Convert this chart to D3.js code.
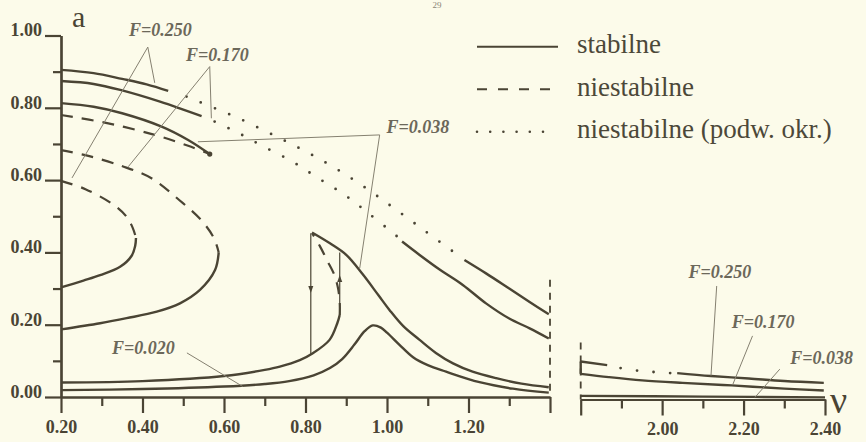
<!DOCTYPE html>
<html>
<head>
<meta charset="utf-8">
<script src="https://cdn.jsdelivr.net/npm/d3@7"></script>
<style>
body { margin:0; background:#fcfbea; }
svg { display:block; }
</style>
</head>
<body>
<svg id="chart"></svg>
<script>
var width = 866,
    height = 442;

// ticks
var yTicks = [0, 0.2, 0.4, 0.6, 0.8, 1.0];
var yTickLabels = ["0.00", "0.20", "0.40", "0.60", "0.80", "1.00"];
var yMinor = [0.1, 0.3, 0.5, 0.7, 0.9];
var xTicksLeft = [0.2, 0.4, 0.6, 0.8, 1.0, 1.2, 1.4];
var xTickLabelsLeft = ["0.20", "0.40", "0.60", "0.80", "1.00", "1.20", ""];
var xMinorLeft = [0.3, 0.5, 0.7, 0.9, 1.1, 1.3];
var xTicksRight = [1.8, 2.0, 2.2, 2.4];
var xTickLabelsRight = ["", "2.00", "2.20", "2.40"];
var xMinorRight = [1.9, 2.1, 2.3];

// branches [nu, a] - left panel
var f250Top = [[0.20,0.905],[0.28,0.896],[0.35,0.880],[0.41,0.865],[0.463,0.847]];
var f170Top = [[0.20,0.874],[0.28,0.866],[0.35,0.848],[0.443,0.817],[0.50,0.795],[0.545,0.777]];
var f038Top = [[0.20,0.813],[0.28,0.803],[0.35,0.785],[0.447,0.748],[0.512,0.711],[0.565,0.672]];
var f038TopUnst = [[0.20,0.780],[0.316,0.757],[0.43,0.725],[0.512,0.695],[0.565,0.672]];
var f170Unst = [[0.20,0.683],[0.267,0.667],[0.349,0.639],[0.422,0.605],[0.49,0.545],[0.545,0.488],[0.575,0.44],[0.587,0.40]];
var f170Low = [[0.20,0.187],[0.296,0.204],[0.361,0.218],[0.435,0.236],[0.492,0.259],[0.541,0.296],[0.578,0.351],[0.587,0.40]];
var f250Unst = [[0.20,0.598],[0.26,0.575],[0.33,0.531],[0.36,0.50],[0.376,0.468],[0.384,0.44]];
var f250Low = [[0.20,0.303],[0.255,0.322],[0.296,0.337],[0.345,0.360],[0.373,0.39],[0.382,0.418],[0.384,0.44]];
var f020 = [[0.20,0.019],[0.40,0.022],[0.60,0.029],[0.70,0.036],[0.76,0.044],[0.82,0.060],[0.86,0.080],[0.89,0.105],[0.92,0.145],[0.945,0.182],[0.965,0.198],[0.985,0.192],[1.00,0.178],[1.03,0.145],[1.064,0.11],[1.10,0.088],[1.145,0.070],[1.227,0.041],[1.309,0.023],[1.397,0.012]];
var f038Low = [[0.20,0.040],[0.40,0.044],[0.60,0.058],[0.70,0.075],[0.737,0.084],[0.786,0.102],[0.818,0.121],[0.859,0.158],[0.878,0.204],[0.884,0.227]];
var f038Unst = [[0.884,0.227],[0.884,0.26],[0.88,0.30],[0.87,0.34],[0.852,0.38],[0.835,0.418],[0.816,0.453]];
var f038Peak = [[0.816,0.455],[0.86,0.425],[0.90,0.393],[0.94,0.340],[0.98,0.280],[1.006,0.241],[1.04,0.196],[1.08,0.158],[1.12,0.122],[1.162,0.093],[1.21,0.07],[1.268,0.052],[1.33,0.037],[1.397,0.027]];
var f250Tail = [[1.19,0.379],[1.243,0.342],[1.30,0.30],[1.35,0.263],[1.397,0.229]];
var f170Tail = [[1.037,0.430],[1.08,0.393],[1.13,0.352],[1.186,0.31],[1.243,0.259],[1.30,0.217],[1.35,0.19],[1.397,0.162]];
var f250Doubling = [[0.508,0.831],[0.577,0.799],[0.636,0.771],[0.704,0.734],[0.765,0.700],[0.830,0.661],[0.896,0.617],[0.962,0.567],[1.026,0.515],[1.096,0.457],[1.160,0.404]];
var f170Doubling = [[0.577,0.762],[0.634,0.731],[0.695,0.694],[0.765,0.653],[0.829,0.607],[0.896,0.559],[0.957,0.506],[1.026,0.443]];
var jumpDown = [[0.813,0.453],[0.813,0.117]];
var jumpUp = [[0.884,0.227],[0.884,0.40]];
var arrowDown = [0.813, 0.296];
var arrowUp = [0.884, 0.329];
var breakLeft = [[1.4,0.324],[1.4,0.005]];

// right panel
var r250Start = [[1.80,0.105],[1.865,0.095]];
var r250Doubling = [[1.898,0.087],[1.939,0.080],[1.98,0.076],[2.021,0.073]];
var r250 = [[2.037,0.073],[2.12,0.065],[2.213,0.058],[2.30,0.051],[2.397,0.046]];
var r170 = [[1.80,0.071],[1.869,0.062],[1.951,0.053],[2.05,0.046],[2.171,0.039],[2.30,0.030],[2.397,0.025]];
var r038 = [[1.80,0.010],[2.10,0.008],[2.40,0.006]];
var rJump = [[1.80,0.105],[1.80,0.071]];
var breakRight = [[1.8,0.158],[1.8,0.0]];

// annotations
var leftLabels = ["F=0.250", "F=0.170", "F=0.038", "F=0.020"];
var leftLabelPos = [[0.444,0.999],[0.584,0.929],[1.076,0.730],[0.402,0.119]];
var leftLeaders = [
    [[0.227,0.606],[0.413,0.968],[0.430,0.869]],
    [[0.365,0.637],[0.565,0.914],[0.569,0.771]],
    [[0.536,0.706],[0.982,0.725],[0.933,0.356]],
    [[0.509,0.122],[0.646,0.029]]
];
var rightLabels = ["F=0.250", "F=0.170", "F=0.038"];
var rightLabelPos = [[2.142,0.336],[2.248,0.198],[2.392,0.098]];
var rightLeaders = [
    [[2.134,0.314],[2.12,0.066]],
    [[2.222,0.176],[2.173,0.040]],
    [[2.289,0.084],[2.228,0.006]]
];
var legendNames = ["stabilne", "niestabilne", "niestabilne (podw. okr.)"];

var ink = "#4a4434";
var serif = "'Liberation Serif', 'Times New Roman', serif";

var svg = d3.select("#chart").attr("width", width).attr("height", height);
svg.append("rect").attr("width", width).attr("height", height).attr("fill", "#fcfbea");

var xL = d3.scaleLinear().domain([0.2, 1.4]).range([61, 550]);
var xR = d3.scaleLinear().domain([1.8, 2.4]).range([580.7, 825]);
var y = d3.scaleLinear().domain([0, 1]).range([397, 35.5]);

var left = svg.append("g");
var right = svg.append("g").attr("transform", "translate(0,2.5)");

function lineFor(x, straight) {
    return d3.line()
        .x(function(d) { return x(d[0]); })
        .y(function(d) { return y(d[1]); })
        .curve(straight ? d3.curveLinear : d3.curveCatmullRom.alpha(0.5));
}

function drawSet(g, x, list, kind) {
    var straight = (kind == "leader" || kind == "thin" || kind == "break");
    var p = g.selectAll(null).data(list)
        .enter()
        .append("path")
            .attr("d", lineFor(x, straight))
            .attr("fill", "none")
            .attr("stroke", ink);
    if (kind == "stable") {
        p.attr("stroke-width", 2.4);
    } else if (kind == "unstable") {
        p.attr("stroke-width", 2.2).attr("stroke-dasharray", "12,9");
    } else if (kind == "doubling") {
        p.attr("stroke-width", 2.8).attr("stroke-linecap", "round").attr("stroke-dasharray", "0,15.4");
    } else if (kind == "thin") {
        p.attr("stroke-width", 1.2);
    } else if (kind == "break") {
        p.attr("stroke-width", 1.8).attr("stroke-dasharray", "7,6");
    } else if (kind == "leader") {
        p.attr("stroke-width", 1).attr("stroke", "#858070");
    }
    return p;
}

function drawXAxis(g, x, majors, labels, minors, y0) {
    var ax = g.append("g").attr("transform", "translate(0," + y0 + ")");
    ax.call(d3.axisBottom(x).tickValues(majors)
        .tickFormat(function(d, i) { return labels[i]; })
        .tickSize(16).tickSizeOuter(0).tickPadding(7));
    ax.append("g").call(d3.axisBottom(x).tickValues(minors).tickFormat("").tickSize(9).tickSizeOuter(0));
    return ax;
}

// axes
var axL = drawXAxis(left, xL, xTicksLeft, xTickLabelsLeft, xMinorLeft, y(0));
var axR = drawXAxis(right, xR, xTicksRight, xTickLabelsRight, xMinorRight, y(0));
var axY = left.append("g").attr("transform", "translate(" + xL(0.2) + ",0)");
axY.call(d3.axisLeft(y).tickValues(yTicks)
    .tickFormat(function(d, i) { return yTickLabels[i]; })
    .tickSize(16).tickSizeOuter(0).tickPadding(3));
axY.append("g").call(d3.axisLeft(y).tickValues(yMinor).tickFormat("").tickSize(8).tickSizeOuter(0));
axY.selectAll("text").attr("dy", "0.02em");

svg.selectAll(".domain, .tick line").attr("stroke", ink).attr("stroke-width", 2.2);
svg.selectAll(".tick text")
    .attr("fill", ink)
    .style("font-family", serif)
    .style("font-size", "18px")
    .style("font-weight", "bold");

// curves
drawSet(left, xL, [f250Top, f170Top, f038Top, f170Low, f250Low, f020, f038Low, f038Peak, f250Tail, f170Tail], "stable");
drawSet(left, xL, [f038TopUnst, f170Unst, f250Unst, f038Unst], "unstable");
drawSet(left, xL, [f250Doubling, f170Doubling], "doubling");
drawSet(left, xL, [jumpDown, jumpUp], "thin");
drawSet(left, xL, [breakLeft], "break");
left.append("circle")
    .attr("cx", xL(f038Top[f038Top.length - 1][0]))
    .attr("cy", y(f038Top[f038Top.length - 1][1]))
    .attr("r", 2.6)
    .attr("fill", ink);

// jump arrows
left.append("path")
    .attr("d", function() {
        var px = xL(arrowDown[0]), py = y(arrowDown[1]);
        return "M" + (px - 2.5) + "," + (py - 4) + "L" + (px + 2.5) + "," + (py - 4) + "L" + px + "," + (py + 3) + "Z";
    })
    .attr("fill", ink);
left.append("path")
    .attr("d", function() {
        var px = xL(arrowUp[0]), py = y(arrowUp[1]);
        return "M" + (px - 2.5) + "," + (py + 4) + "L" + (px + 2.5) + "," + (py + 4) + "L" + px + "," + (py - 3) + "Z";
    })
    .attr("fill", ink);

drawSet(right, xR, [r250Start, r250, r170, r038, rJump], "stable");
drawSet(right, xR, [r250Doubling], "doubling").attr("stroke-dasharray", "0,16.6");
drawSet(right, xR, [breakRight], "break");

// leaders and labels
drawSet(left, xL, leftLeaders, "leader");
drawSet(right, xR, rightLeaders, "leader");

function drawLabels(g, x, names, pos) {
    g.selectAll(null).data(names)
        .enter()
        .append("text")
            .attr("x", function(d, i) { return x(pos[i][0]); })
            .attr("y", function(d, i) { return y(pos[i][1]); })
            .attr("text-anchor", "middle")
            .attr("fill", "#6c685a")
            .style("font-family", serif)
            .style("font-size", "18px")
            .style("font-style", "italic")
            .style("font-weight", "bold")
            .text(function(d) { return d; });
}
drawLabels(left, xL, leftLabels, leftLabelPos);
drawLabels(right, xR, rightLabels, rightLabelPos);

// axis titles
svg.append("text").attr("x", 72).attr("y", 27)
    .attr("fill", ink).style("font-family", serif).style("font-size", "30px").text("a");
svg.append("text").attr("x", 830).attr("y", 413)
    .attr("fill", ink).style("font-family", serif).style("font-size", "38px").text("ν");
svg.append("text").attr("x", 437).attr("y", 8).attr("text-anchor", "middle")
    .attr("fill", "#8a8575").style("font-family", serif).style("font-size", "9px").text("29");

// legend
var legend = svg.append("g").attr("transform", "translate(477,0)");
var legendRows = [46.7, 89.3, 131.7];
var legendDash = [null, "10,11", "0,13.2"];
legend.selectAll(".lg").data(legendNames)
    .enter()
    .append("line")
        .attr("x1", 0)
        .attr("x2", function(d, i) { return i == 0 ? 81 : 76; })
        .attr("y1", function(d, i) { return legendRows[i]; })
        .attr("y2", function(d, i) { return legendRows[i]; })
        .attr("stroke", ink)
        .attr("stroke-width", function(d, i) { return i == 2 ? 2.6 : 2; })
        .attr("stroke-linecap", function(d, i) { return i == 2 ? "round" : "butt"; })
        .attr("stroke-dasharray", function(d, i) { return legendDash[i]; });
legend.selectAll(".lt").data(legendNames)
    .enter()
    .append("text")
        .attr("x", 100)
        .attr("y", function(d, i) { return legendRows[i] + 6.5; })
        .attr("fill", "#4c4839")
        .style("font-family", serif)
        .style("font-size", "27px")
        .text(function(d) { return d; });
</script>
</body>
</html>
